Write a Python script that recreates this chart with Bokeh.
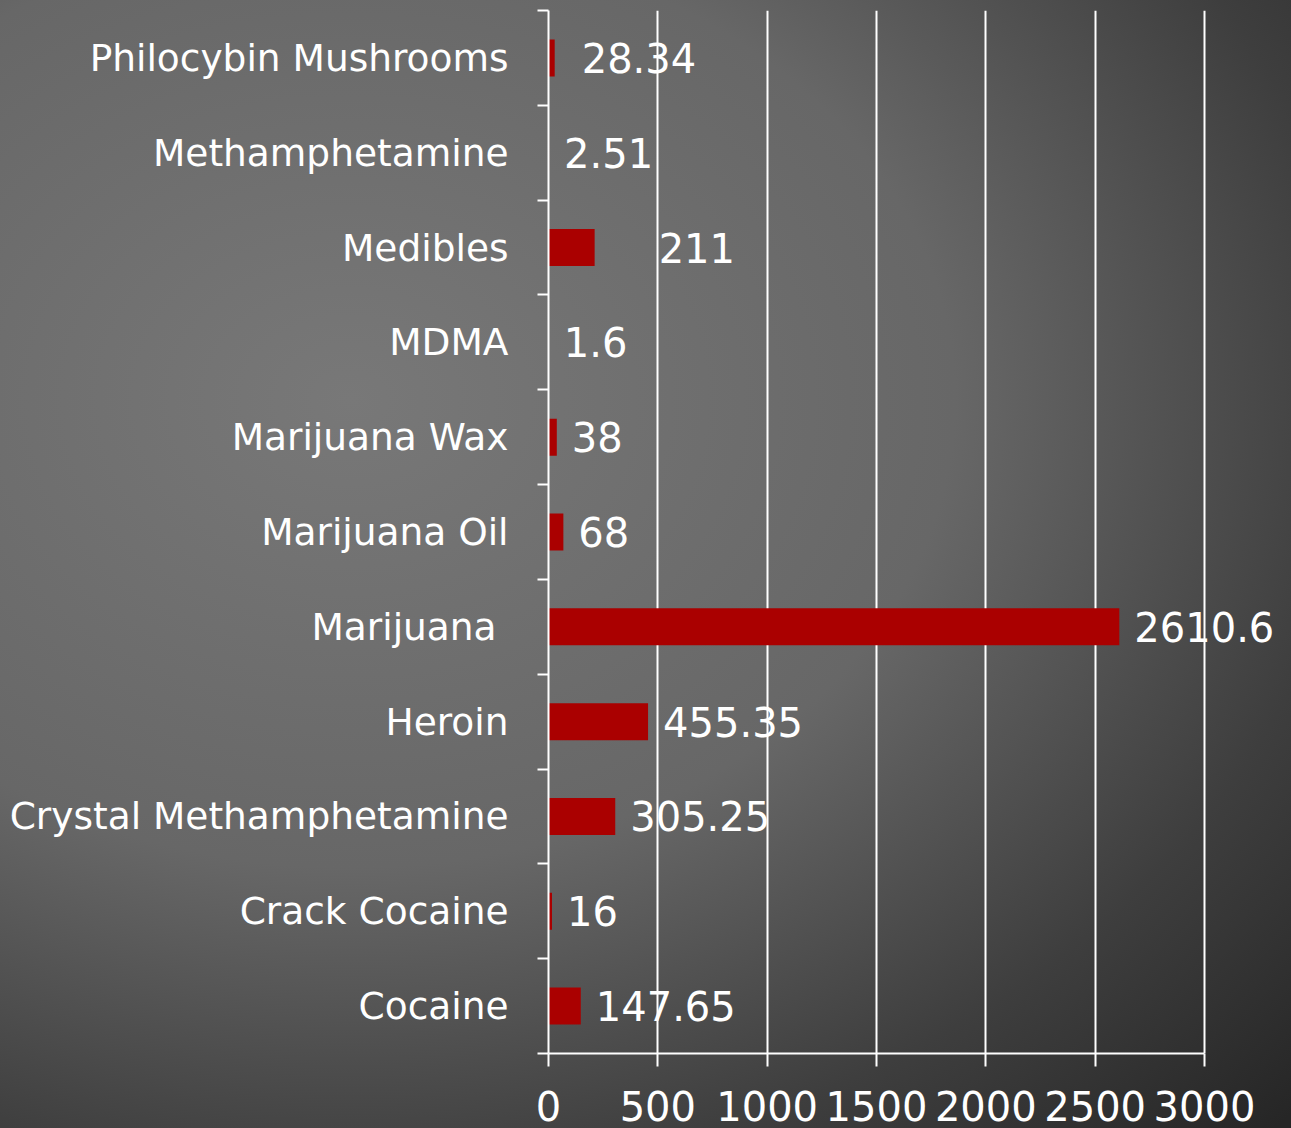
from bokeh.plotting import figure
from bokeh.models import (ColumnDataSource, Range1d, LinearAxis, FixedTicker,
                          SingleIntervalTicker, LabelSet)
from bokeh.core.properties import value
from bokeh.embed import file_html
from bokeh.resources import INLINE

# ---- data (bottom to top) ----
categories = ["Cocaine", "Crack Cocaine", "Crystal Methamphetamine", "Heroin", "Marijuana ",
              "Marijuana Oil", "Marijuana Wax", "MDMA", "Medibles", "Methamphetamine",
              "Philocybin Mushrooms"]
values = [147.65, 16, 305.25, 455.35, 2610.6, 68, 38, 1.6, 211, 2.51, 28.34]
value_labels = ["147.65", "16", "305.25", "455.35", "2610.6", "68", "38", "1.6", "211", "2.51", "28.34"]
label_offsets = [15, 15, 15, 15, 15, 15, 15, 15, 64, 15, 27]

X_MAX = 3000          # axis end
X_VIEW = 3398         # frame extends to the figure edge so labels are not clipped

FONT = "DejaVu Sans"
WHITE = "#ffffff"
n = len(categories)
slot = [i + 0.5 for i in range(n)]          # centre of each category slot
edges = list(range(n + 1))                  # slot boundaries (tick marks)

source = ColumnDataSource(dict(y=slot, cat=categories, val=values, lab=value_labels, off=label_offsets))

p = figure(width=1291, height=1128, output_backend="svg", toolbar_location=None,
           y_range=Range1d(0, n), x_range=Range1d(0, X_VIEW),
           x_axis_location=None, y_axis_location=None,
           min_border_left=548, min_border_right=0, min_border_top=10, min_border_bottom=75)

p.background_fill_color = None
p.border_fill_color = None
p.outline_line_color = None
p.styles = {"background": "radial-gradient(ellipse 1100px 850px at 350px 400px, #787878 0%, #676767 55%, #3e3e3e 92%, #262626 120%)"}

# bars
p.hbar(y="y", right="val", height=0.39, left=0, source=source,
       fill_color="#aa0000", line_color=None)

# data labels (below grid lines)
labels = LabelSet(x="val", y="y", text="lab", x_offset="off", source=source,
                  text_align="left", text_baseline="middle",
                  text_font=value(FONT), text_font_size="40px", text_color=WHITE, level="image")
p.add_layout(labels)

# x axis
xaxis = LinearAxis(ticker=SingleIntervalTicker(interval=500), bounds=(0, X_MAX))
xaxis.axis_line_color = WHITE
xaxis.axis_line_width = 2
xaxis.major_tick_line_color = WHITE
xaxis.major_tick_line_width = 2
xaxis.major_tick_out = 13
xaxis.major_tick_in = 0
xaxis.minor_tick_line_color = None
xaxis.major_label_text_color = WHITE
xaxis.major_label_text_font = FONT
xaxis.major_label_text_font_size = "40px"
xaxis.major_label_standoff = 24
p.add_layout(xaxis, "below")

# y axis: tick marks on slot boundaries, no labels
edge_axis = LinearAxis(ticker=FixedTicker(ticks=edges))
edge_axis.axis_line_color = WHITE
edge_axis.axis_line_width = 2
edge_axis.major_tick_line_color = WHITE
edge_axis.major_tick_line_width = 2
edge_axis.major_tick_out = 11
edge_axis.major_tick_in = 0
edge_axis.minor_tick_line_color = None
edge_axis.major_label_text_font_size = "0px"
edge_axis.major_label_standoff = 0
edge_axis.major_label_overrides = {e: "" for e in edges}
p.add_layout(edge_axis, "left")

# y axis: category names at slot centres, no line/ticks
cat_axis = LinearAxis(ticker=FixedTicker(ticks=slot))
cat_axis.major_label_overrides = {s: c for s, c in zip(slot, categories)}
cat_axis.axis_line_color = None
cat_axis.major_tick_line_color = None
cat_axis.minor_tick_line_color = None
cat_axis.major_tick_out = 0
cat_axis.major_tick_in = 0
cat_axis.major_label_text_color = WHITE
cat_axis.major_label_text_font = FONT
cat_axis.major_label_text_font_size = "37.5px"
cat_axis.major_label_standoff = 29
p.add_layout(cat_axis, "left")

# grid
p.xgrid.ticker = SingleIntervalTicker(interval=500)
p.xgrid.bounds = (0, X_MAX)
p.xgrid.grid_line_color = WHITE
p.xgrid.grid_line_width = 2
p.ygrid.grid_line_color = None

open("out.html", "w").write(file_html(p, INLINE))
